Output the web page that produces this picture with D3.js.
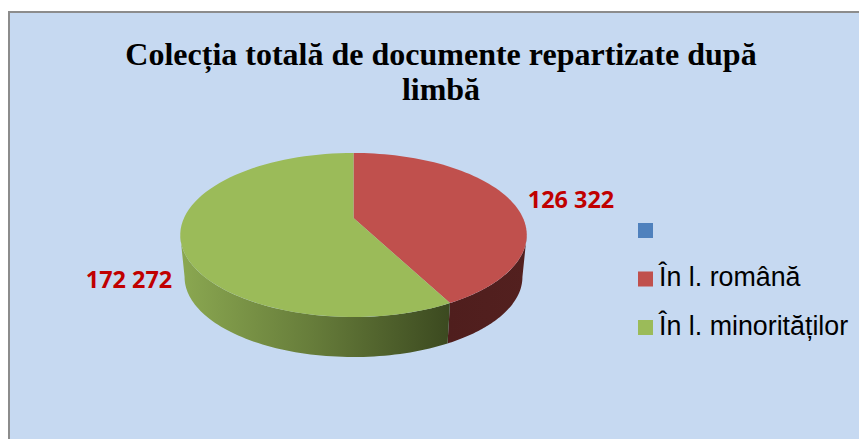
<!DOCTYPE html>
<html><head><meta charset="utf-8">
<script src="https://cdnjs.cloudflare.com/ajax/libs/d3/7.9.0/d3.min.js"></script>
<style>html,body{margin:0;padding:0;background:#fff}svg{display:block}</style></head>
<body><svg id="c" width="859" height="439"></svg>
<script>
const categories = ["", "În l. română", "În l. minorităților"];
const values = [0, 126322, 172272];
const valueLabels = ["", "126 322", "172 272"];
const colors = ["#4f81bd", "#c0504d", "#9bbb59"];
const titleLines = ["Colecția totală de documente repartizate după", "limbă"];

const svg = d3.select("#c");
svg.append("rect").attr("x",9).attr("y",12).attr("width",860).attr("height",440)
  .attr("fill","#c6d9f1").attr("stroke","#8c8c8c").attr("stroke-width",2);

const defs = svg.append("defs");
const g1 = defs.append("linearGradient").attr("id","sideG").attr("gradientUnits","userSpaceOnUse")
  .attr("x1",180).attr("x2",448).attr("y1",0).attr("y2",0);
[[0,"#8ba851"],[0.5,"#667c3a"],[1,"#3c4a20"]].forEach(s=>g1.append("stop").attr("offset",s[0]).attr("stop-color",s[1]));
const g2 = defs.append("linearGradient").attr("id","sideR").attr("gradientUnits","userSpaceOnUse")
  .attr("x1",448).attr("x2",527).attr("y1",0).attr("y2",0);
[[0,"#4f1e1d"],[1,"#53201f"]].forEach(s=>g2.append("stop").attr("offset",s[0]).attr("stop-color",s[1]));
const sideFill = ["none","url(#sideR)","url(#sideG)"];

const persp = 0.207;
function project(a, level){
  const u = Math.sin(a), v = -Math.cos(a), d = 1 - persp*v;
  const s = level ? 0.975 : 1, cy = level ? 260.5 : 218;
  return [353.5 + 169.5*s*u/d, cy + 78.5*s*v/d];
}
const pieLayout = d3.pie().sort(null).value(d=>d);
const arcs = pieLayout(values);
const line = d3.line();
const samples = (a0,a1) => d3.range(0,73).map(i=>a0+(a1-a0)*i/72);

// side walls: only the front part of the rim, between the two silhouette points
const rimStart = Math.acos(-0.207), rimEnd = 2*Math.PI - rimStart;
arcs.forEach((d,i)=>{
  const a0 = Math.max(d.startAngle,rimStart), a1 = Math.min(d.endAngle,rimEnd);
  if(a1-a0<=0) return;
  const ts = samples(a0,a1);
  const pts = ts.map(a=>project(a,0)).concat(ts.slice().reverse().map(a=>project(a,1)));
  svg.append("path").attr("d",line(pts)+"Z").attr("fill",sideFill[i]);
});
// top faces
arcs.forEach((d,i)=>{
  if(d.endAngle-d.startAngle<=0) return;
  const pts = [[353.5,218]].concat(samples(d.startAngle,d.endAngle).map(a=>project(a,0)));
  svg.append("path").attr("d",line(pts)+"Z").attr("fill",colors[i]);
});

// title
svg.selectAll("text.t").data(titleLines).join("text").attr("class","t")
  .attr("x",441).attr("y",(d,i)=>65+i*35).attr("text-anchor","middle")
  .attr("font-family","Liberation Serif").attr("font-weight","bold").attr("font-size",32)
  .attr("fill","#000").text(d=>d);

// data labels
const labelPos = [null,[571,208],[129,288]];
arcs.forEach((d,i)=>{
  if(!valueLabels[i]) return;
  svg.append("text").attr("x",labelPos[i][0]).attr("y",labelPos[i][1]).attr("text-anchor","middle")
    .attr("font-family","Open Sans").attr("font-weight","bold").attr("font-size",23.4)
    .attr("fill","#c00000").text(valueLabels[i]);
});

// legend
const legY = d3.scalePoint().domain(categories).range([230.5,327.5]);
categories.forEach((c,i)=>{
  const y = legY(c);
  svg.append("rect").attr("x",638).attr("y",y-7.5).attr("width",15).attr("height",15).attr("fill",colors[i]);
  svg.append("text").attr("x",659).attr("y",y+7).attr("font-family","Liberation Sans")
    .attr("font-size",26.8).attr("fill","#000").text(c);
});
</script></body></html>
